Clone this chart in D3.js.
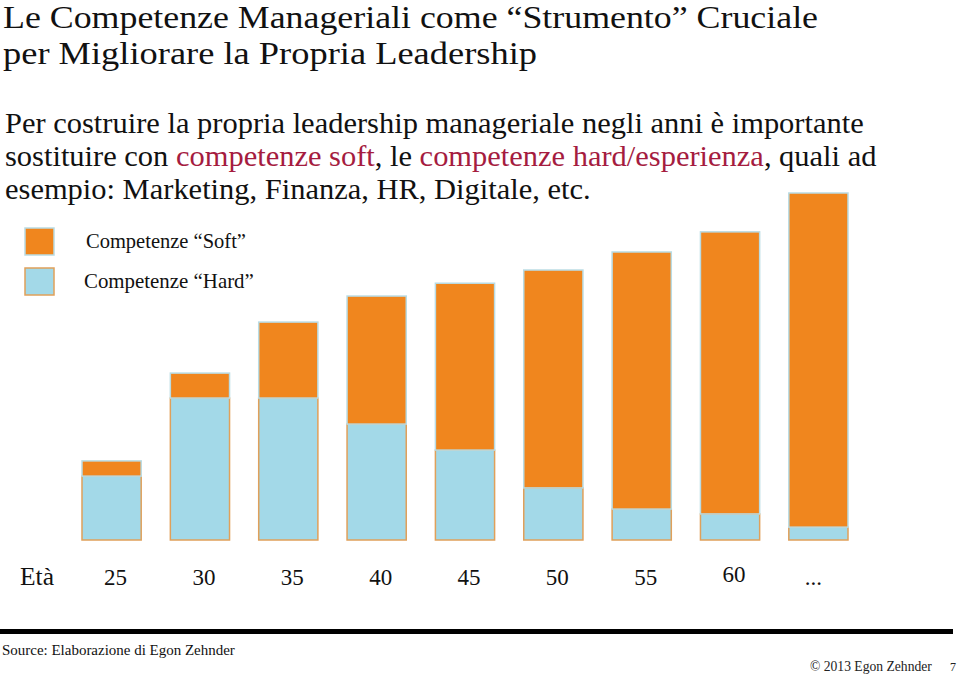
<!DOCTYPE html>
<html>
<head>
<meta charset="utf-8">
<script src="https://cdn.jsdelivr.net/npm/d3@7"></script>
<style>
  html, body { margin: 0; padding: 0; background: #fff; }
  svg { display: block; }
</style>
</head>
<body>
<svg id="chart" width="959" height="675"></svg>
<script>
// ---- data ----
const ages = ["25", "30", "35", "40", "45", "50", "55", "60", "..."];
const hardValues = [18.4, 40.9, 40.9, 33.4, 25.9, 15.0, 8.9, 7.5, 3.7];
const softValues = [4.4, 7.2, 21.9, 36.9, 48.1, 62.8, 74.1, 81.3, 96.3];
const seriesNames = ["Competenze “Soft”", "Competenze “Hard”"];
const titleLines = ["Le Competenze Manageriali come “Strumento” Cruciale",
                    "per Migliorare la Propria Leadership"];
const axisLabel = "Età";
const sourceText = "Source: Elaborazione di Egon Zehnder";
const copyrightText = "© 2013 Egon Zehnder";
const pageNumber = "7";

// ---- style ----
const ORANGE = "#F0861E", BLUE = "#A3D9E8", CRIMSON = "#A51C3F";
const SERIF = "'Liberation Serif', 'Times New Roman', serif";

const svg = d3.select("#chart");

function fitGroup(sels, targets, maxSize) {
  let measured = 0, target = 0;
  sels.forEach((s, i) => { measured += s.node().getComputedTextLength(); target += targets[i]; });
  let size = parseFloat(sels[0].attr("font-size")) * target / measured;
  if (maxSize) size = Math.min(size, maxSize);
  sels.forEach(s => s.attr("font-size", size));
}

// ---- title ----
const t1 = svg.append("text").attr("x", 3).attr("y", 28).attr("font-family", SERIF).attr("font-size", 31).attr("fill", "#111")
  .attr("textLength", 815).attr("lengthAdjust", "spacingAndGlyphs").text(titleLines[0]);
const t2 = svg.append("text").attr("x", 3).attr("y", 64).attr("font-family", SERIF).attr("font-size", 31).attr("fill", "#111")
  .attr("textLength", 534).attr("lengthAdjust", "spacingAndGlyphs").text(titleLines[1]);

// ---- subtitle ----
const sub = [
  [["Per costruire la propria leadership manageriale negli anni è importante", "#111"]],
  [["sostituire con ", "#111"], ["competenze soft", CRIMSON], [", le ", "#111"], ["competenze hard/esperienza", CRIMSON], [", quali ad", "#111"]],
  [["esempio: Marketing, Finanza, HR, Digitale, etc.", "#111"]]
];
const subY = [133, 166, 199];
const subSel = sub.map((parts, i) => {
  const t = svg.append("text").attr("x", 5).attr("y", subY[i]).attr("font-family", SERIF).attr("font-size", 24);
  parts.forEach(p => t.append("tspan").attr("fill", p[1]).text(p[0]));
  return t;
});
fitGroup(subSel, [865, 875, 577]);

// ---- scales ----
const x = d3.scaleBand().domain(ages).range([82, 848]).paddingInner(0.33).paddingOuter(0);
const y = d3.scaleLinear().domain([0, 100]).range([540, 193]);

const rows = ages.map((a, i) => ({ age: a, hard: hardValues[i], soft: softValues[i] }));
const stack = d3.stack().keys(["hard", "soft"])(rows);
const fills = { hard: BLUE, soft: ORANGE };
const strokes = { hard: "#E0A05A", soft: "#B9DCE4" };

svg.append("g").selectAll("g").data(stack).join("g")
  .attr("fill", d => fills[d.key])
  .attr("stroke", d => strokes[d.key])
  .attr("stroke-width", 1.5)
  .selectAll("rect").data(d => d).join("rect")
  .attr("x", d => x(d.data.age))
  .attr("width", x.bandwidth())
  .attr("y", d => y(d[1]))
  .attr("height", d => y(d[0]) - y(d[1]));

// ---- x labels ----
const labY = 585;
const eta = svg.append("text").attr("x", 20).attr("y", labY).attr("font-family", SERIF).attr("font-size", 22).attr("fill", "#111").text(axisLabel);
fitGroup([eta], [34]);
svg.append("g").selectAll("text").data(ages).join("text")
  .attr("x", (d, i) => x(d) + x.bandwidth() / 2 + (i < ages.length - 1 ? 4 : -5))
  .attr("y", d => d === "60" ? labY - 3 : labY)
  .attr("text-anchor", "middle")
  .attr("font-family", SERIF).attr("font-size", 23).attr("fill", "#111")
  .text(d => d);

// ---- legend ----
const legY = [228, 268];
const legFill = [ORANGE, BLUE];
const legStroke = ["#B9DCE4", "#E0A05A"];
const legX = [86, 84];
const legW = [160, 170];
seriesNames.forEach((name, i) => {
  svg.append("rect").attr("x", 25).attr("y", legY[i]).attr("width", 29).attr("height", 27)
    .attr("fill", legFill[i]).attr("stroke", legStroke[i]).attr("stroke-width", 1.5);
  const t = svg.append("text").attr("x", legX[i]).attr("y", legY[i] + 20)
    .attr("font-family", SERIF).attr("font-size", 19).attr("fill", "#111").text(name);
  fitGroup([t], [legW[i]]);
});

// ---- footer ----
svg.append("rect").attr("x", 0).attr("y", 629).attr("width", 953).attr("height", 5).attr("fill", "#000");
const src = svg.append("text").attr("x", 2).attr("y", 655).attr("font-family", SERIF).attr("font-size", 15).attr("fill", "#111").text(sourceText);
fitGroup([src], [233]);
const cp = svg.append("text").attr("x", 810).attr("y", 671).attr("font-family", SERIF).attr("font-size", 12).attr("fill", "#222").text(copyrightText);
fitGroup([cp], [122]);
svg.append("text").attr("x", 950).attr("y", 671).attr("font-family", SERIF).attr("font-size", 12).attr("fill", "#222").text(pageNumber);
</script>
</body>
</html>
